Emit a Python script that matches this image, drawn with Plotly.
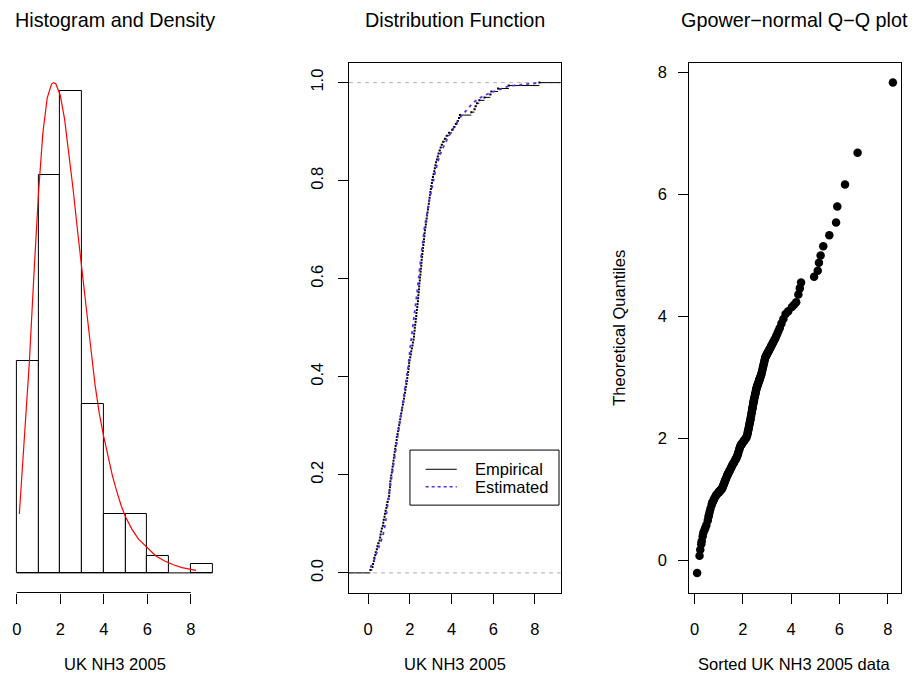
import numpy as np
import plotly.graph_objects as go

# ---------------- data ----------------
# sorted UK NH3 2005 sample
nh3_2005 = [
    0.11, 0.21, 0.24, 0.28, 0.30, 0.34, 0.37, 0.42, 0.45, 0.49, 0.55, 0.58, 0.60,
    0.63, 0.66, 0.71, 0.73, 0.75, 0.79, 0.81, 0.84, 0.88, 0.90, 0.93, 0.98,
    1.01, 1.02, 1.03, 1.05, 1.06, 1.07, 1.09, 1.11, 1.14, 1.16, 1.18, 1.20, 1.22,
    1.24, 1.26, 1.28, 1.30, 1.32, 1.35, 1.37, 1.38, 1.41, 1.44, 1.46, 1.49, 1.51,
    1.54, 1.56, 1.59, 1.62, 1.64, 1.67, 1.70, 1.72, 1.74, 1.77, 1.79, 1.81, 1.84,
    1.86, 1.88, 1.90, 1.92, 1.94, 1.96, 1.97, 1.99,
    2.02, 2.05, 2.07, 2.10, 2.13, 2.15, 2.18, 2.20, 2.21, 2.23, 2.24, 2.26, 2.28,
    2.29, 2.31, 2.32, 2.34, 2.36, 2.37, 2.39, 2.40, 2.41, 2.43, 2.44, 2.45, 2.46,
    2.48, 2.49, 2.51, 2.52, 2.53, 2.55, 2.56, 2.57, 2.59, 2.60, 2.62, 2.63, 2.65,
    2.67, 2.68, 2.70, 2.71, 2.73, 2.75, 2.77, 2.79, 2.81, 2.83, 2.85, 2.87, 2.89,
    2.91, 2.93, 2.95, 2.97, 2.99,
    3.01, 3.03, 3.06, 3.08, 3.11, 3.14, 3.17, 3.20, 3.23, 3.26, 3.30, 3.34, 3.38,
    3.43, 3.48, 3.53, 3.60, 3.68, 3.77, 3.88,
    4.03, 4.12, 4.21, 4.30, 4.36, 4.41, 4.95,
    5.10, 5.15, 5.22, 5.33, 5.58, 5.86, 5.91,
    6.23, 6.75,
    8.21,
]

# theoretical quantiles of the fitted Gpower-normal model (Q-Q plot y values)
theoretical_q = [
    -0.20, 0.08, 0.18, 0.27, 0.32, 0.40, 0.46, 0.51, 0.54, 0.58, 0.66, 0.72, 0.75,
    0.80, 0.85, 0.91, 0.94, 0.96, 0.99, 1.01, 1.03, 1.06, 1.07, 1.09, 1.11,
    1.122, 1.127, 1.131, 1.140, 1.144, 1.149, 1.158, 1.167, 1.180, 1.200, 1.220,
    1.240, 1.260, 1.280, 1.300, 1.320, 1.340, 1.360, 1.390, 1.406, 1.414, 1.438,
    1.462, 1.478, 1.502, 1.518, 1.542, 1.557, 1.579, 1.600, 1.614, 1.636, 1.657,
    1.671, 1.686, 1.713, 1.739, 1.764, 1.803, 1.829, 1.854, 1.880, 1.891, 1.902,
    1.913, 1.919, 1.930,
    1.947, 1.963, 1.974, 1.991, 2.008, 2.019, 2.049, 2.088, 2.107, 2.146, 2.165,
    2.204, 2.242, 2.261, 2.300, 2.322, 2.366, 2.411, 2.433, 2.477, 2.499, 2.521,
    2.566, 2.588, 2.610, 2.628, 2.665, 2.684, 2.721, 2.739, 2.758, 2.795, 2.813,
    2.832, 2.851, 2.863, 2.886, 2.897, 2.920, 2.943, 2.954, 2.977, 2.989, 3.011,
    3.034, 3.057, 3.090, 3.124, 3.159, 3.193, 3.227, 3.261, 3.296, 3.330, 3.345,
    3.360, 3.375,
    3.390, 3.405, 3.428, 3.443, 3.465, 3.488, 3.510, 3.533, 3.556, 3.579, 3.610,
    3.640, 3.676, 3.721, 3.766, 3.811, 3.883, 3.960, 4.039, 4.087,
    4.154, 4.193, 4.232, 4.360, 4.460, 4.555, 4.650, 4.750, 4.880, 5.000, 5.150,
    5.330, 5.540, 5.800, 6.160, 6.680, 7.830,
]

# fitted density curve (red)
density_x = [0.12, 0.30, 0.58, 0.80, 1.00, 1.20, 1.40, 1.60, 1.70, 1.80, 2.00, 2.20,
             2.40, 2.60, 2.80, 3.00, 3.20, 3.40, 3.60, 3.80, 4.00, 4.20, 4.40, 4.60,
             4.80, 5.00, 5.30, 5.60, 6.00, 6.40, 6.80, 7.20, 7.60, 8.24]
density_y = [0.042, 0.085, 0.150, 0.215, 0.270, 0.313, 0.338, 0.348, 0.349, 0.348,
             0.340, 0.323, 0.298, 0.272, 0.243, 0.214, 0.187, 0.161, 0.134, 0.113,
             0.097, 0.082, 0.069, 0.058, 0.048, 0.040, 0.031, 0.024, 0.018, 0.012,
             0.0085, 0.0058, 0.0038, 0.0018]

# estimated (fitted) distribution function (blue dashed)
est_cdf_x = [0.11, 0.30, 0.51, 0.70, 0.83, 0.88, 0.99, 1.10, 1.23, 1.39, 1.55, 1.66,
             1.79, 1.92, 2.03, 2.19, 2.35, 2.48, 2.59, 2.70, 2.91, 3.07, 3.23, 3.44,
             3.71, 4.03, 4.35, 4.41, 4.95, 5.10, 5.33, 5.58, 5.91, 6.23, 6.75, 8.21]
est_cdf_y = [0.011, 0.027, 0.052, 0.074, 0.100, 0.121, 0.158, 0.187, 0.223, 0.270,
             0.310, 0.340, 0.376, 0.420, 0.463, 0.514, 0.572, 0.623, 0.667, 0.703,
             0.754, 0.787, 0.820, 0.852, 0.878, 0.903, 0.925, 0.929, 0.955, 0.961,
             0.968, 0.974, 0.980, 0.985, 0.993, 0.9995]

hist_start, hist_end, hist_size = 0, 9, 1
x_ticks = [0, 2, 4, 6, 8]
cdf_ticks = [0.0, 0.2, 0.4, 0.6, 0.8, 1.0]
qq_ticks = [0, 2, 4, 6, 8]

titles = ["Histogram and Density", "Distribution Function", "Gpower\u2212normal Q\u2212Q plot"]
xlabels = ["UK NH3 2005", "UK NH3 2005", "Sorted UK NH3 2005 data"]
ylabel3 = "Theoretical Quantiles"
legend_labels = ["Empirical", "Estimated"]

assert len(nh3_2005) == len(theoretical_q)

# ---------------- layout geometry ----------------
W, H = 917, 677
FONT = "Liberation Sans, Arial, Helvetica, sans-serif"
BASE = 16.5
EST_COLOR = "#5a2cf2"


def fx(p):
    return p / W


def fy(p):
    return 1 - p / H


Y_DOM = [fy(592.5), fy(63.0)]
X_DOM = [[fx(8.9), fx(220.3)], [fx(349.0), fx(560.7)], [fx(689.3), fx(900.7)]]


def r_ext(lo, hi):
    d = 0.04 * (hi - lo)
    return [lo - d, hi + d]


data = np.array(nh3_2005)
n = len(data)
edges = np.arange(hist_start, hist_end + hist_size, hist_size)
hist_dens, _ = np.histogram(data, bins=edges, density=True)
ymax1 = max(max(density_y), hist_dens.max())

# ecdf x-limits like R's plot.stepfun
rx = (data.min(), data.max())
dr = max(0.08 * (rx[1] - rx[0]), float(np.median(np.diff(data))))
ecdf_xlim = (rx[0] - dr, rx[1] + dr)
range2 = r_ext(*ecdf_xlim)

fig = go.Figure()

# ---- panel 1: histogram + density ----
fig.add_trace(go.Histogram(
    x=nh3_2005, xbins=dict(start=hist_start, end=hist_end, size=hist_size),
    histnorm="probability density", marker=dict(color="white", line=dict(color="black", width=1)),
    xaxis="x", yaxis="y", showlegend=False))
fig.add_trace(go.Scatter(x=[edges[0], edges[-1]], y=[0, 0], mode="lines",
                         line=dict(color="black", width=1), xaxis="x", yaxis="y", showlegend=False))
fig.add_trace(go.Scatter(x=density_x, y=density_y, mode="lines",
                         line=dict(color="#ff0000", width=1.2), xaxis="x", yaxis="y", showlegend=False))

# ---- panel 2: ECDF (horizontal segments only) + estimated CDF ----
lefts = [range2[0] - 1] + list(data)
rights = list(data) + [range2[1] + 1]
heights = [0.0] + [i / n for i in range(1, n + 1)]
sx, sy = [], []
for l, r, h in zip(lefts, rights, heights):
    sx += [l, r, None]
    sy += [h, h, None]
fig.add_trace(go.Scatter(x=sx, y=sy, mode="lines", line=dict(color="black", width=1),
                         xaxis="x2", yaxis="y2", showlegend=False))
fig.add_trace(go.Scatter(x=list(data), y=heights[1:], mode="markers",
                         marker=dict(symbol="square", size=2, color="black", line=dict(width=0)),
                         xaxis="x2", yaxis="y2", showlegend=False))
fig.add_trace(go.Scatter(x=est_cdf_x, y=est_cdf_y, mode="lines",
                         line=dict(color=EST_COLOR, width=1.8, dash="3px,4px"),
                         xaxis="x2", yaxis="y2", showlegend=False))

# ---- panel 3: Q-Q ----
fig.add_trace(go.Scatter(x=nh3_2005, y=theoretical_q, mode="markers",
                         marker=dict(size=8.5, color="black", line=dict(width=0)),
                         xaxis="x3", yaxis="y3", showlegend=False))

axcommon = dict(showgrid=False, zeroline=False, ticks="outside", ticklen=10, tickwidth=1,
                tickcolor="black", linecolor="black", linewidth=1,
                tickfont=dict(family=FONT, size=BASE, color="black"))

fig.update_layout(
    width=W, height=H, margin=dict(l=0, r=0, t=0, b=0),
    paper_bgcolor="white", plot_bgcolor="white", bargap=0,
    font=dict(family=FONT, size=BASE, color="black"),
    xaxis=dict(domain=X_DOM[0], anchor="y", range=r_ext(hist_start, hist_end),
               tickvals=x_ticks, showline=False, ticklabelstandoff=12, **axcommon),
    yaxis=dict(domain=Y_DOM, anchor="x", range=r_ext(0, ymax1), visible=False),
    xaxis2=dict(domain=X_DOM[1], anchor="y2", range=range2, tickvals=x_ticks,
                showline=True, mirror=True, ticklabelstandoff=12, **axcommon),
    yaxis2=dict(domain=Y_DOM, anchor="x2", range=r_ext(0, 1), tickvals=cdf_ticks,
                tickformat=".1f", tickangle=-90, showline=True, mirror=True,
                ticklabelstandoff=8, **axcommon),
    xaxis3=dict(domain=X_DOM[2], anchor="y3", range=r_ext(min(nh3_2005), max(nh3_2005)),
                tickvals=qq_ticks, showline=True, mirror=True, ticklabelstandoff=12, **axcommon),
    yaxis3=dict(domain=Y_DOM, anchor="x3", range=r_ext(min(theoretical_q), max(theoretical_q)),
                tickvals=qq_ticks, showline=True, mirror=True, ticklabelstandoff=8, **axcommon),
)

shapes = [
    # panel 1 axis line spanning the tick range
    dict(type="line", xref="x", yref="y domain", x0=min(x_ticks), x1=max(x_ticks), y0=0, y1=0,
         line=dict(color="black", width=1)),
    # gray reference lines at 0 and 1
    dict(type="line", xref="x2 domain", yref="y2", x0=0, x1=1, y0=0, y1=0, layer="below",
         line=dict(color="#b3b3b3", width=1, dash="4px,4px")),
    dict(type="line", xref="x2 domain", yref="y2", x0=0, x1=1, y0=1, y1=1, layer="below",
         line=dict(color="#b3b3b3", width=1, dash="4px,4px")),
    # legend box
    dict(type="rect", xref="x2 domain", yref="y2 domain", x0=0.288, x1=0.992, y0=0.165, y1=0.269,
         line=dict(color="black", width=1)),
    dict(type="line", xref="x2 domain", yref="y2 domain", x0=0.362, x1=0.509, y0=0.2327, y1=0.2327,
         line=dict(color="black", width=1)),
    dict(type="line", xref="x2 domain", yref="y2 domain", x0=0.362, x1=0.509, y0=0.1998, y1=0.1998,
         line=dict(color=EST_COLOR, width=1.5, dash="3px,3px")),
]
fig.update_layout(shapes=shapes)

ann = []
for i in range(3):
    cx = (X_DOM[i][0] + X_DOM[i][1]) / 2
    ann.append(dict(text=titles[i], x=cx, y=fy(20), xref="paper", yref="paper",
                    xanchor="center", yanchor="middle", showarrow=False,
                    font=dict(size=BASE * 1.2, family=FONT, color="black")))
    ann.append(dict(text=xlabels[i], x=cx, y=fy(664), xref="paper", yref="paper",
                    xanchor="center", yanchor="middle", showarrow=False,
                    font=dict(size=BASE, family=FONT, color="black")))
ann.append(dict(text=ylabel3, x=fx(619), y=(Y_DOM[0] + Y_DOM[1]) / 2, xref="paper", yref="paper",
                xanchor="center", yanchor="middle", textangle=-90, showarrow=False,
                font=dict(size=BASE, family=FONT, color="black")))
for lab, yy in zip(legend_labels, [0.2327, 0.1998]):
    ann.append(dict(text=lab, x=0.587, y=yy, xref="x2 domain", yref="y2 domain",
                    xanchor="left", yanchor="middle", showarrow=False,
                    font=dict(size=BASE, family=FONT, color="black")))
fig.update_layout(annotations=ann)

fig.write_html("out.html", config={"displayModeBar": False},
               post_script="document.body.style.margin='0';document.body.style.overflow='hidden';")
